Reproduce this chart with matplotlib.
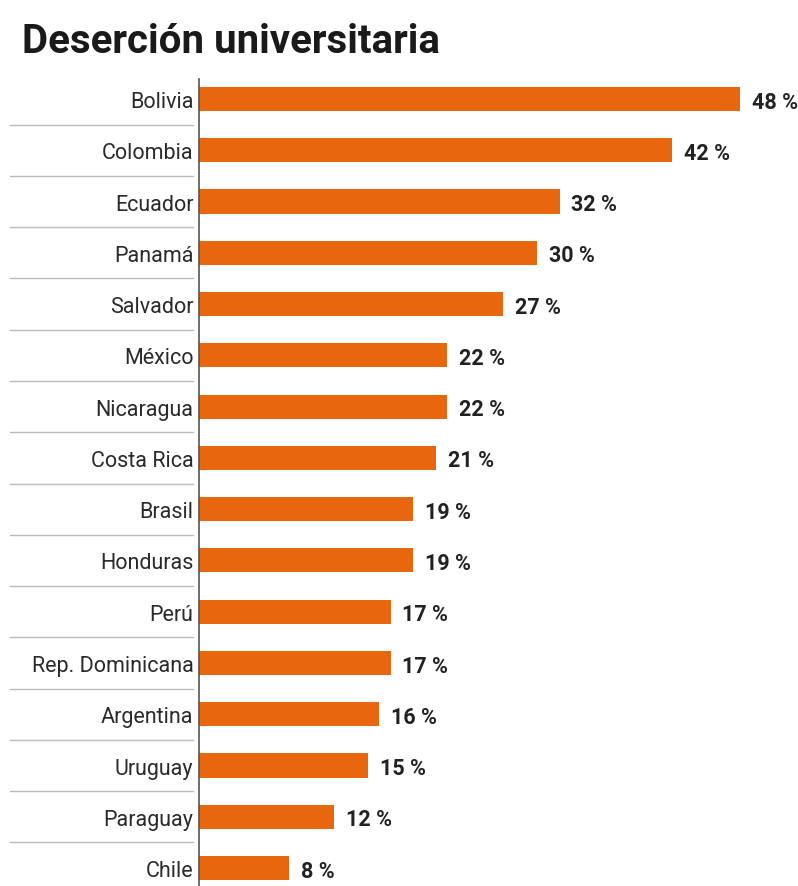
import matplotlib
matplotlib.use("Agg")
import matplotlib.pyplot as plt
import matplotlib.transforms as mtransforms
from matplotlib import font_manager

countries = ["Bolivia", "Colombia", "Ecuador", "Panamá", "Salvador", "México",
             "Nicaragua", "Costa Rica", "Brasil", "Honduras", "Perú",
             "Rep. Dominicana", "Argentina", "Uruguay", "Paraguay", "Chile"]
dropout = [48, 42, 32, 30, 27, 22, 22, 21, 19, 19, 17, 17, 16, 15, 12, 8]

names = {f.name for f in font_manager.fontManager.ttflist}
family = "Liberation Sans Narrow" if "Liberation Sans Narrow" in names else "Roboto"

bar_color = "#e8660d"
text_color = "#222222"

fig = plt.figure(figsize=(7.98, 8.87), dpi=100)
ax = fig.add_axes([199 / 798, 0, 599 / 798, 807 / 887])

rows = list(range(len(countries)))
ax.barh(rows, dropout, height=0.47, color=bar_color)
ax.set_xlim(0, 599 / 11.27)
ax.set_ylim(15.35, -0.39)

# value labels just past the bar ends
for y, v in zip(rows, dropout):
    ax.text(v + 1.05, y + 0.05, f"{v} %", va="center", ha="left",
            fontsize=15.5, fontweight="bold", color=text_color, family=family)

ax.set_yticks(rows)
ax.set_yticklabels(countries, fontsize=15.5, color="#2a2a2a", family=family)
ax.tick_params(axis="y", length=0, pad=4)
ax.set_xticks([])
for side in ["top", "right", "bottom"]:
    ax.spines[side].set_visible(False)
ax.spines["left"].set_color("#555555")
ax.spines["left"].set_linewidth(1.2)

# separators between the country names
trans = mtransforms.blended_transform_factory(fig.transFigure, ax.transData)
for y in rows[:-1]:
    ax.plot([10 / 798, 193 / 798], [y + 0.5, y + 0.5], color="#bbbbbb",
            linewidth=1, transform=trans, clip_on=False)

fig.text(22 / 798, 1 - 42 / 887, "Deserción universitaria", fontsize=29,
         fontweight="bold", color="#1a1a1a", va="center", ha="left", family=family)

fig.savefig("out.png", dpi=100, facecolor="white")
